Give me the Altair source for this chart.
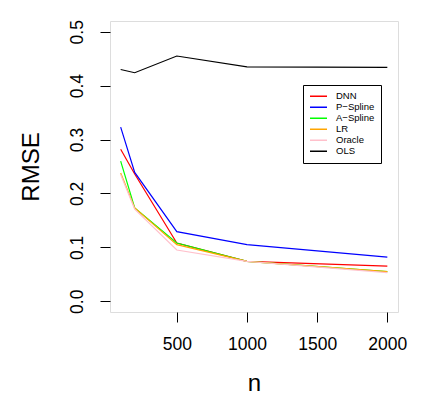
import altair as alt
import pandas as pd

n_values = [100, 200, 500, 1000, 2000]
methods = ["DNN", "P−Spline", "A−Spline", "LR", "Oracle", "OLS"]
colors = ["#FF0000", "#0000FF", "#00FF00", "#FFA500", "#FFC0CB", "#000000"]
rmse_dnn = [0.282, 0.236, 0.108, 0.074, 0.065]
rmse_pspline = [0.323, 0.239, 0.129, 0.105, 0.082]
rmse_aspline = [0.260, 0.173, 0.108, 0.074, 0.055]
rmse_lr = [0.238, 0.173, 0.105, 0.074, 0.055]
rmse_oracle = [0.235, 0.171, 0.095, 0.074, 0.053]
rmse_ols = [0.430, 0.424, 0.455, 0.435, 0.434]
x_ticks = [500, 1000, 1500, 2000]
y_ticks = [0.0, 0.1, 0.2, 0.3, 0.4, 0.5]

series = [rmse_dnn, rmse_pspline, rmse_aspline, rmse_lr, rmse_oracle, rmse_ols]
rows = []
for i, (m, vals) in enumerate(zip(methods, series)):
    for n, v in zip(n_values, vals):
        rows.append({"n": n, "RMSE": v, "method": m, "order": i})
df = pd.DataFrame(rows)

font = "Liberation Sans"

chart = alt.Chart(df).mark_line(strokeWidth=1.2).encode(
    x=alt.X("n:Q",
            scale=alt.Scale(domain=[24, 2076], nice=False, zero=False),
            axis=alt.Axis(values=x_ticks, format="d", title="n", grid=False, domain=False,
                          tickColor="black", tickSize=10, tickWidth=1,
                          labelFont=font, labelFontSize=17.5, labelColor="black",
                          labelPadding=13, labelFlush=False,
                          titleFont=font, titleFontSize=24, titleFontWeight="normal",
                          titleColor="black", titleY=71, titleBaseline="middle")),
    y=alt.Y("RMSE:Q",
            scale=alt.Scale(domain=[-0.02, 0.52], nice=False, zero=False),
            axis=alt.Axis(values=y_ticks, format=".1f", title="RMSE", grid=False,
                          domain=False, tickColor="black", tickSize=10, tickWidth=1,
                          labelFont=font, labelFontSize=17.5, labelColor="black",
                          labelAngle=270, labelAlign="center", labelBaseline="bottom",
                          labelPadding=14, labelFlush=False,
                          titleFont=font, titleFontSize=24, titleFontWeight="normal",
                          titleColor="black", titleAngle=270, titleX=-79,
                          titleBaseline="middle")),
    color=alt.Color("method:N",
                    scale=alt.Scale(domain=methods, range=colors),
                    legend=alt.Legend(title=None, orient="none", legendX=193, legendY=64,
                                      symbolType="stroke", symbolSize=289,
                                      symbolStrokeWidth=1.5, clipHeight=10.4,
                                      rowPadding=0, labelFont=font, labelFontSize=9.5,
                                      labelColor="black", labelOffset=8,
                                      strokeColor="black", padding=6,
                                      fillColor="white")),
    order="order:Q",
    detail="method:N",
).properties(
    width=288, height=291,
    autosize=alt.AutoSizeParams(type="none"),
    padding={"left": 102, "top": 13, "right": 37, "bottom": 96},
).configure_view(stroke="black", strokeWidth=1.2).configure(background="white")

chart.save("out.html", embed_options={"renderer": "svg", "actions": False})
